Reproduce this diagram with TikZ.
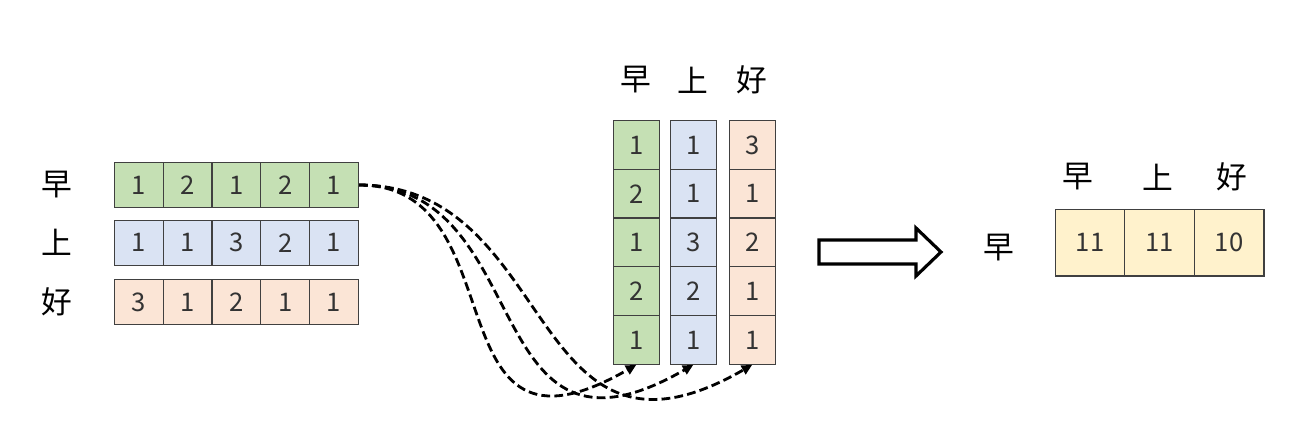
\documentclass[tikz,border=0pt]{standalone}
\usepackage{fontspec}
\setmainfont{Noto Sans CJK SC}
\usetikzlibrary{arrows.meta}

\definecolor{verde}{HTML}{C5E0B4}
\definecolor{azul}{HTML}{DAE3F3}
\definecolor{naranja}{HTML}{FBE5D6}
\definecolor{amarillo}{HTML}{FFF2CC}
\definecolor{borde}{HTML}{404040}

\begin{document}
\begin{tikzpicture}[x=0.02cm, y=-0.02cm, % unidades en pixeles
    celda/.style={draw=borde, line width=0.7pt, inner sep=0pt, text=black!80, font=\fontsize{14.6}{17}\selectfont},
    fila/.style={celda, minimum width=0.976cm, minimum height=0.9cm},
    columna/.style={celda, minimum width=0.92cm, minimum height=0.974cm},
    total/.style={celda, minimum width=1.394cm, minimum height=1.334cm},
    palabra/.style={inner sep=0pt, font=\fontsize{17.5}{20}\selectfont},
    enlace/.style={line width=1.6pt, dash pattern=on 5pt off 2.4pt, -{Triangle[length=6pt,width=5.5pt]}}]

        \useasboundingbox (0,0) rectangle (1304,440); % Margenes

        % Matriz de la izquierda: una fila por palabra
        \foreach \pal/\col/\y/\vals [count=\r] in {早/verde/185/{1,2,1,2,1}, 上/azul/242.8/{1,1,3,2,1}, 好/naranja/302.2/{3,1,2,1,1}} {
            \node[palabra] (w-\r) at (57,\y) {\pal};
            \foreach \v [count=\k] in \vals {
                \node[fila, fill=\col] (m-\r-\k) at (90+48.8*\k,\y) {\v};
            }
        }

        % Matriz transpuesta: una columna por palabra
        \foreach \pal/\col/\x/\vals [count=\c] in {早/verde/636.3/{1,2,1,2,1}, 上/azul/693.3/{1,1,3,2,1}, 好/naranja/752.2/{3,1,2,1,1}} {
            \node[palabra] (h-\c) at (\x,80) {\pal};
            \foreach \v [count=\k] in \vals {
                \node[columna, fill=\col] (t-\c-\k) at (\x,96.35+48.7*\k) {\v};
            }
        }

        % Enlaces punteados hacia cada columna
        \foreach \c/\a/\bx/\by in {1/162/209/120, 2/180/217/125, 3/200/226/130} {
            \draw[enlace] (m-1-5.east) .. controls +(\a,0) and +(-\bx,\by) .. (t-\c-5.south);
        }

        % Flecha grande
        \draw[line width=1.8pt] (819,240) -- (916,240) -- (916,228) -- (941,252) -- (916,276) -- (916,264) -- (819,264) -- cycle;

        % Resultado
        \node[palabra] (r-0) at (999,248) {早};
        \foreach \pal/\hx/\x/\v [count=\k] in {早/1078/1090/11, 上/1158/1159.7/11, 好/1232/1229.2/10} {
            \node[palabra] (g-\k) at (\hx,177) {\pal};
            \node[total, fill=amarillo] (res-\k) at (\x,242.7) {\v};
        }

\end{tikzpicture}
\end{document}
